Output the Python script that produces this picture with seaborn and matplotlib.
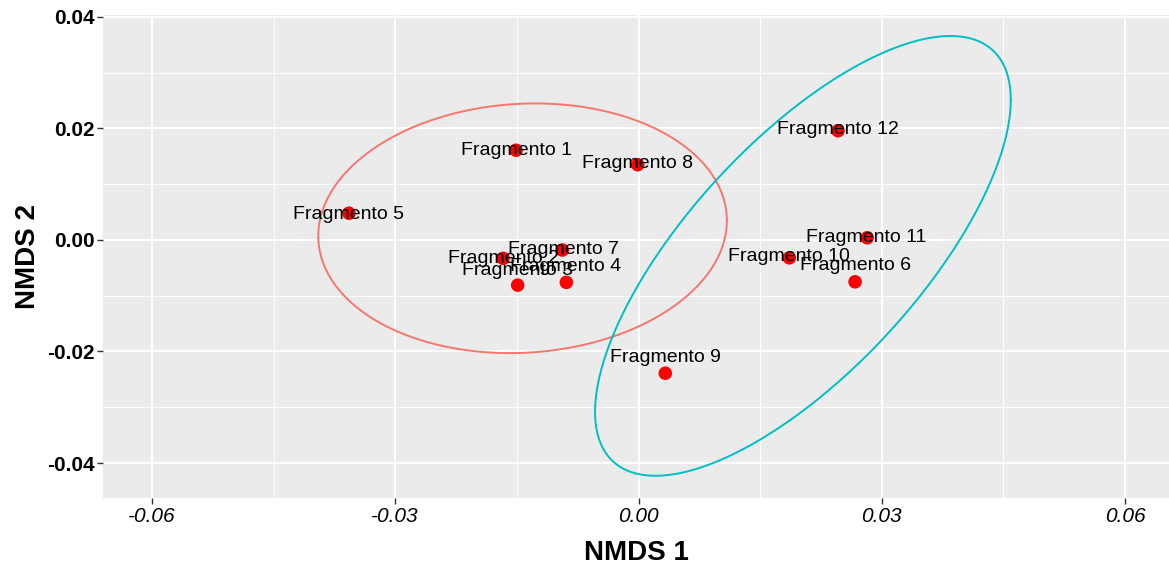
import numpy as np
import pandas as pd
import matplotlib
matplotlib.use("Agg")
import matplotlib.pyplot as plt
import seaborn as sns
from matplotlib.ticker import FixedLocator

# ---- data ----
labels = ["Fragmento 1", "Fragmento 2", "Fragmento 3", "Fragmento 4",
          "Fragmento 5", "Fragmento 6", "Fragmento 7", "Fragmento 8",
          "Fragmento 9", "Fragmento 10", "Fragmento 11", "Fragmento 12"]
nmds1 = [-0.0151, -0.0167, -0.0149, -0.0089, -0.0357, 0.0267,
         -0.0094, -0.0001, 0.0033, 0.0186, 0.0282, 0.0246]
nmds2 = [0.0161, -0.0033, -0.0081, -0.0076, 0.0048, -0.0075,
         -0.0018, 0.0135, -0.0239, -0.0032, 0.0004, 0.0196]

# ellipse parameters: centre, half extents, correlation
ell_groups = ["A", "B"]
ell_cx = [-0.0143, 0.02027]
ell_cy = [0.0021, -0.00285]
ell_sx = [0.02519, 0.02563]
ell_sy = [0.02239, 0.03944]
ell_rho = [0.062, 0.7095]

x_ticks = [-0.06, -0.03, 0.00, 0.03, 0.06]
y_ticks = [-0.04, -0.02, 0.00, 0.02, 0.04]

# ---- style (label offsets in pixels) ----
label_dx = [0, 0, 0, -1, 0, 0, 1, 0, 0, 0, -1, 0]
label_dy = [0, 0, 15, 16, -1, 16, 1, 1, 16, 1, 0, 1]
ell_colors = ["#F8766D", "#00BFC4"]

sns.set_theme(style="darkgrid")
plt.rcParams["font.family"] = ["Liberation Sans", "DejaVu Sans"]
plt.rcParams["axes.facecolor"] = "#EBEBEB"
plt.rcParams["grid.color"] = "white"

df = pd.DataFrame({"NMDS1": nmds1, "NMDS2": nmds2, "label": labels})

fig = plt.figure(figsize=(11.69, 5.65), dpi=100)
ax = fig.add_axes([103 / 1169, 1 - 498.3 / 565, 1 - 103 / 1169, (498.3 - 15.3) / 565])
ax.set_facecolor("#EBEBEB")

# grid
ax.xaxis.set_major_locator(FixedLocator(x_ticks))
ax.yaxis.set_major_locator(FixedLocator(y_ticks))
ax.xaxis.set_minor_locator(FixedLocator([-0.045, -0.015, 0.015, 0.045]))
ax.yaxis.set_minor_locator(FixedLocator([-0.03, -0.01, 0.01, 0.03]))
ax.grid(which="major", color="white", linewidth=1.5)
ax.grid(which="minor", color="white", linewidth=0.7)
ax.set_axisbelow(True)

# ellipses
t = np.linspace(0, 2 * np.pi, 361)
for cx, cy, sx, sy, rho, col in zip(ell_cx, ell_cy, ell_sx, ell_sy, ell_rho, ell_colors):
    cov = np.array([[sx ** 2, rho * sx * sy], [rho * sx * sy, sy ** 2]])
    L = np.linalg.cholesky(cov)
    pts = L @ np.vstack([np.cos(t), np.sin(t)])
    ax.plot(cx + pts[0], cy + pts[1], color=col, linewidth=1.4, zorder=2)

# points
sns.scatterplot(data=df, x="NMDS1", y="NMDS2", color="#FF0000", s=95,
                edgecolor="none", ax=ax, zorder=3, legend=False)

for x, y, lab, dx, dy in zip(nmds1, nmds2, labels, label_dx, label_dy):
    ax.annotate(lab, (x, y), xytext=(dx, dy), textcoords="offset pixels",
                ha="center", va="center", fontsize=14, color="black", zorder=4)

ax.set_xlim(-0.06603, 0.06541)
ax.set_ylim(-0.04633, 0.0403)

ax.set_xticklabels([f"{v:.2f}" for v in x_ticks], fontstyle="italic", fontsize=15, color="black")
ax.set_yticklabels([f"{v:.2f}" for v in y_ticks], fontweight="bold", fontsize=15, color="black")
ax.tick_params(which="major", length=4, width=1, color="#333333", pad=2, bottom=True, left=True)
ax.tick_params(which="minor", length=0)

ax.set_xlabel("NMDS 1", fontsize=20, fontweight="bold", color="black", labelpad=10)
ax.set_ylabel("NMDS 2", fontsize=20, fontweight="bold", color="black", labelpad=4)

for s in ax.spines.values():
    s.set_visible(False)

fig.savefig("out.png", dpi=100, facecolor="white")
